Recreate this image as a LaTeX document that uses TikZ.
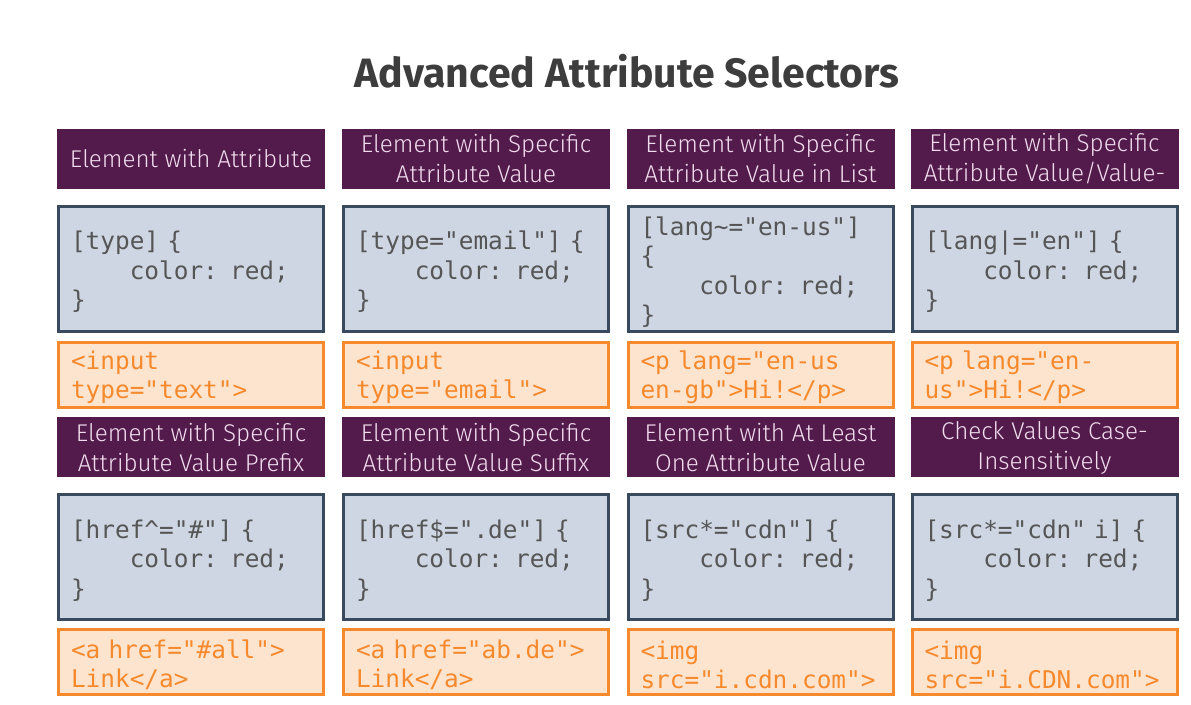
\documentclass[tikz,border=0pt]{standalone}
\usepackage{fontspec}
\setmainfont{Fira Sans}
\setmonofont{DejaVu Sans Mono}
\newfontfamily\titlefont{Fira Sans}
\newfontfamily\hdfont{Fira Sans Light}
\definecolor{plum}{HTML}{521B4B}
\definecolor{plumtext}{HTML}{F1DCEE}
\definecolor{codefill}{HTML}{CDD6E2}
\definecolor{codeedge}{HTML}{3A4A5E}
\definecolor{codetext}{HTML}{555555}
\definecolor{htmlfill}{HTML}{FDE4CF}
\definecolor{htmledge}{HTML}{F5892C}
\definecolor{titlegray}{HTML}{3D3D3D}
\newcommand{\ind}{\hphantom{xxxx}}
% a code panel: box plus its text, nudged slightly downward
\newcommand{\codepanel}[3]{%
  \node[codebox] (#1) at (#2) {};
  \node[codetxt] (#1t) at ([yshift=-1.5pt]#1.center) {#3};}
\newcommand{\htmlpanel}[3]{%
  \node[htmlbox] (#1) at (#2) {};
  \node[htmltxt] (#1t) at ([yshift=-1.3pt]#1.center) {#3};}
\begin{document}
\begin{tikzpicture}[x=0.5pt,y=-0.5pt,
  hdr/.style={fill=plum,text=plumtext,minimum width=134pt,minimum height=30pt,
    inner sep=0pt,align=center,font=\hdfont\fontsize{12.1}{15}\selectfont},
  codebox/.style={fill=codefill,draw=codeedge,line width=1.5pt,
    minimum width=132.5pt,minimum height=62.5pt,inner sep=0pt},
  codetxt/.style={text width=120pt,inner sep=0pt,align=left,text=codetext,
    font=\ttfamily\fontsize{12.2}{14.75}\selectfont},
  htmlbox/.style={fill=htmlfill,draw=htmledge,line width=1.5pt,
    minimum width=132.5pt,minimum height=32.5pt,inner sep=0pt},
  htmltxt/.style={text width=120pt,inner sep=0pt,align=left,text=htmledge,
    font=\ttfamily\fontsize{12.2}{14.5}\selectfont}]
\useasboundingbox (0,0) rectangle (1191,705);
\fill[white] (0,0) rectangle (1191,705);

\node (title) at (627,71) {\titlefont\bfseries\color{titlegray}\fontsize{20.5}{24}\selectfont Advanced Attribute Selectors};

% first row
\node[hdr] (h1) at (191,159) {Element with Attribute};
\node[hdr] (h2) at (476,159) {Element with Specific\\Attribute Value};
\node[hdr] (h3) at (760.5,159) {Element with Specific\\Attribute Value in List};
\node[hdr] (h4) at (1044.5,159) {Element with Specific\\Attribute Value/Value-};

\codepanel{c1}{191,269}{[type] \{\\\ind color: red;\\\}}
\codepanel{c2}{476,269}{[type="email"] \{\\\ind color: red;\\\}}
\codepanel{c3}{760.5,269}{[lang\textasciitilde="en-us"]\\\{\\\ind color: red;\\\}}
\codepanel{c4}{1044.5,269}{[lang\textbar="en"] \{\\\ind color: red;\\\}}

\htmlpanel{e1}{191,375}{<input\\type="text">}
\htmlpanel{e2}{476,375}{<input\\type="email">}
\htmlpanel{e3}{760.5,375}{<p lang="en-us\\en-gb">Hi!</p>}
\htmlpanel{e4}{1044.5,375}{<p lang="en-\\us">Hi!</p>}

% second row
\node[hdr] (h5) at (191,447.5) {Element with Specific\\Attribute Value Prefix};
\node[hdr] (h6) at (476,447.5) {Element with Specific\\Attribute Value Suffix};
\node[hdr] (h7) at (760.5,447.5) {Element with At Least\\One Attribute Value};
\node[hdr] (h8) at (1044.5,447.5) {Check Values Case-\\Insensitively};

\codepanel{c5}{191,557.5}{[href\textasciicircum="\#"] \{\\\ind color: red;\\\}}
\codepanel{c6}{476,557.5}{[href\$=".de"] \{\\\ind color: red;\\\}}
\codepanel{c7}{760.5,557.5}{[src*="cdn"] \{\\\ind color: red;\\\}}
\codepanel{c8}{1044.5,557.5}{[src*="cdn" i] \{\\\ind color: red;\\\}}

\htmlpanel{e5}{191,662}{<a href="\#all">\\Link</a>}
\htmlpanel{e6}{476,662}{<a href="ab.de">\\Link</a>}
\htmlpanel{e7}{760.5,662}{<img\\src="i.cdn.com">}
\htmlpanel{e8}{1044.5,662}{<img\\src="i.CDN.com">}
\end{tikzpicture}
\end{document}
